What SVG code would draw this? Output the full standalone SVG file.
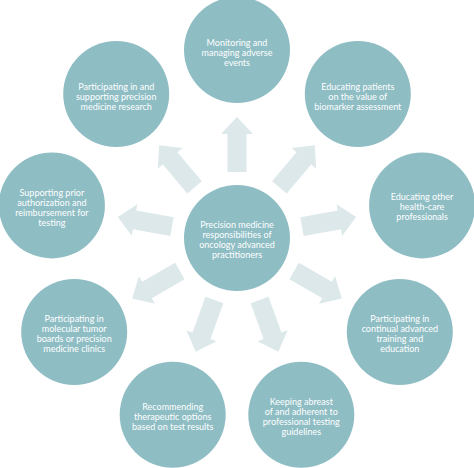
<svg xmlns="http://www.w3.org/2000/svg" xmlns:xlink="http://www.w3.org/1999/xlink" width="474" height="468" viewBox="0 0 474 468">
<style>
.node{fill:#8ebdc4}
.arr{fill:#dce8ea}
.t{font-family:Lato,"Open Sans","DejaVu Sans",sans-serif;font-size:9px;fill:#ffffff;text-anchor:middle}
</style>
<defs>
<polygon id="arrow" class="arr" points="-9.5,-66 -9.5,-104 -16,-104 0,-121 16,-104 9.5,-104 9.5,-66"/>
</defs>
<rect width="474" height="468" fill="#ffffff"/>
<g id="connectors">
<use xlink:href="#arrow" href="#arrow" transform="translate(237,238) rotate(0)"/>
<use xlink:href="#arrow" href="#arrow" transform="translate(237,238) rotate(40)"/>
<use xlink:href="#arrow" href="#arrow" transform="translate(237,238) rotate(80)"/>
<use xlink:href="#arrow" href="#arrow" transform="translate(237,238) rotate(120)"/>
<use xlink:href="#arrow" href="#arrow" transform="translate(237,238) rotate(160)"/>
<use xlink:href="#arrow" href="#arrow" transform="translate(237,238) rotate(200)"/>
<use xlink:href="#arrow" href="#arrow" transform="translate(237,238) rotate(240)"/>
<use xlink:href="#arrow" href="#arrow" transform="translate(237,238) rotate(280)"/>
<use xlink:href="#arrow" href="#arrow" transform="translate(237,238) rotate(320)"/>
</g>
<g id="center">
<circle class="node" cx="237" cy="238" r="53"/>
<text class="t" x="237" y="228">Precision medicine</text>
<text class="t" x="237" y="238">responsibilities of</text>
<text class="t" x="237" y="248">oncology advanced</text>
<text class="t" x="237" y="258">practitioners</text>
</g>
<g id="monitoring">
<circle class="node" cx="237" cy="50" r="53"/>
<text class="t" x="237" y="46">Monitoring and</text>
<text class="t" x="237" y="56">managing adverse</text>
<text class="t" x="237" y="66">events</text>
</g>
<g id="educating-patients">
<circle class="node" cx="357.8" cy="94" r="53"/>
<text class="t" x="357.8" y="90">Educating patients</text>
<text class="t" x="357.8" y="100">on the value of</text>
<text class="t" x="357.8" y="110">biomarker assessment</text>
</g>
<g id="educating-other">
<circle class="node" cx="422.1" cy="205.4" r="53"/>
<text class="t" x="422.1" y="200.4">Educating other</text>
<text class="t" x="422.1" y="210.4">health-care</text>
<text class="t" x="422.1" y="220.4">professionals</text>
</g>
<g id="continual-training">
<circle class="node" cx="399.8" cy="332" r="53"/>
<text class="t" x="399.8" y="322">Participating in</text>
<text class="t" x="399.8" y="332">continual advanced</text>
<text class="t" x="399.8" y="342">training and</text>
<text class="t" x="399.8" y="352">education</text>
</g>
<g id="guidelines">
<circle class="node" cx="301.3" cy="414.7" r="53"/>
<text class="t" x="301.3" y="404.7">Keeping abreast</text>
<text class="t" x="301.3" y="414.7">of and adherent to</text>
<text class="t" x="301.3" y="424.7">professional testing</text>
<text class="t" x="301.3" y="434.7">guidelines</text>
</g>
<g id="therapeutic-options">
<circle class="node" cx="172.7" cy="414.7" r="53"/>
<text class="t" x="172.7" y="409.7">Recommending</text>
<text class="t" x="172.7" y="419.7">therapeutic options</text>
<text class="t" x="172.7" y="429.7">based on test results</text>
</g>
<g id="tumor-boards">
<circle class="node" cx="74.2" cy="332" r="53"/>
<text class="t" x="74.2" y="322">Participating in</text>
<text class="t" x="74.2" y="332">molecular tumor</text>
<text class="t" x="74.2" y="342">boards or precision</text>
<text class="t" x="74.2" y="352">medicine clinics</text>
</g>
<g id="prior-authorization">
<circle class="node" cx="51.9" cy="205.4" r="53"/>
<text class="t" x="51.9" y="196.4">Supporting prior</text>
<text class="t" x="51.9" y="206.4">authorization and</text>
<text class="t" x="51.9" y="216.4">reimbursement for</text>
<text class="t" x="51.9" y="226.4">testing</text>
</g>
<g id="research">
<circle class="node" cx="116.2" cy="94" r="53"/>
<text class="t" x="116.2" y="90">Participating in and</text>
<text class="t" x="116.2" y="100">supporting precision</text>
<text class="t" x="116.2" y="110">medicine research</text>
</g>
</svg>
